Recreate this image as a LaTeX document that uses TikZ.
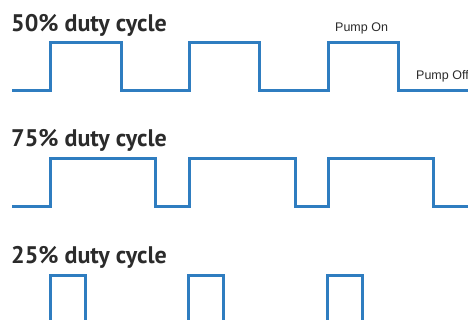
\documentclass[tikz,border=0pt]{standalone}
\usepackage{fontspec}
\newfontfamily\titlefont{PT Sans}
\newfontfamily\labelfont{Liberation Sans}
\definecolor{wave}{HTML}{2F7DC0}
\definecolor{ink}{HTML}{2B2B2B}
\tikzset{
  wavestyle/.style={draw=wave, line width=3pt, line join=miter},
  titlestyle/.style={anchor=base west, inner sep=0pt, text=ink, font=\titlefont\bfseries\fontsize{24}{28}\selectfont},
  labelstyle/.style={anchor=base west, inner sep=0pt, text=ink, font=\labelfont\fontsize{12.5}{14}\selectfont}
}
\begin{document}
\begin{tikzpicture}[x=1pt,y=-1pt]
\useasboundingbox (0,0) rectangle (468,320);
\clip (0,0) rectangle (468,320);
\node[titlestyle] (t1) at (11,32) {50\% duty cycle};
\node[titlestyle] (t2) at (11,147) {75\% duty cycle};
\node[titlestyle] (t3) at (11,263) {25\% duty cycle};
\node[labelstyle] (on) at (335,32) {Pump On};
\node[labelstyle] (off) at (416,80) {Pump Off};
% 50%
\draw[wavestyle] (12,91) -- (50,91) -- (50,43) -- (121,43) -- (121,91) -- (189,91) -- (189,43) -- (259,43) -- (259,91) -- (328,91) -- (328,43) -- (398,43) -- (398,91) -- (470,91);
% 75%
\draw[wavestyle] (12,207) -- (50,207) -- (50,159) -- (155,159) -- (155,207) -- (189,207) -- (189,159) -- (295,159) -- (295,207) -- (328,207) -- (328,159) -- (433,159) -- (433,207) -- (470,207);
% 25%
\draw[wavestyle] (12,323) -- (50,323) -- (50,275) -- (85,275) -- (85,323) -- (188,323) -- (188,275) -- (223,275) -- (223,323) -- (327,323) -- (327,275) -- (362,275) -- (362,323) -- (470,323);
\end{tikzpicture}
\end{document}
